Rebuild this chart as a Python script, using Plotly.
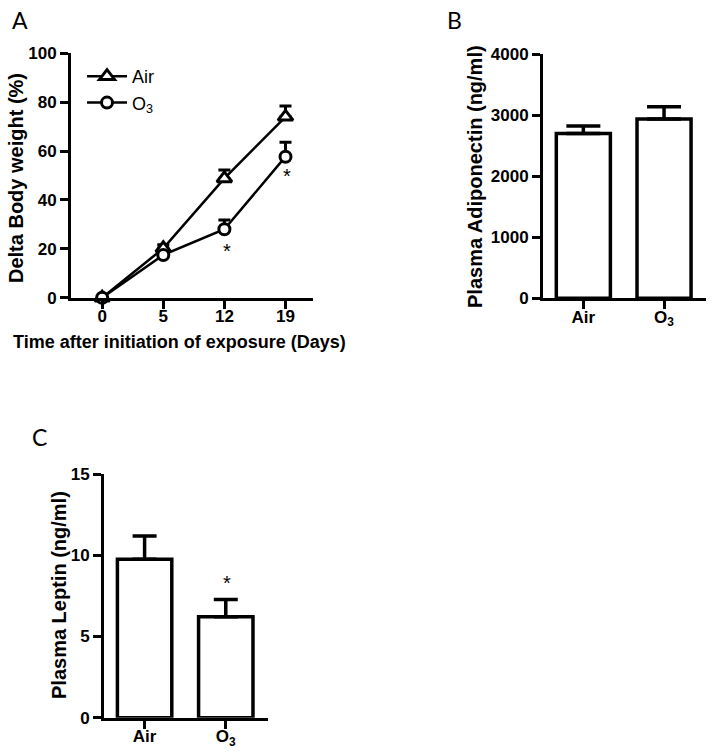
import plotly.graph_objects as go

W, H = 714, 755

# ---- Data ----
days = ["0", "5", "12", "19"]
air_weight = [0, 20.2, 48.8, 74.0]
air_weight_err = [0, 1.5, 3.5, 4.4]
o3_weight = [0, 17.5, 28.0, 57.7]
o3_weight_err = [0, 1.0, 3.8, 5.9]

groups = ["Air", "O<sub>3</sub>"]
adiponectin = [2700, 2935]
adiponectin_err = [120, 200]
leptin = [9.75, 6.22]
leptin_err = [1.43, 1.06]

BOLD = "Liberation Sans"
REG = "Liberation Sans"
LETTER = "Lato"

def px_x(p):
    return p / W

def px_y(p):
    return 1 - p / H

fig = go.Figure()

# Panel A lines
fig.add_trace(go.Scatter(
    x=days, y=air_weight, name="Air", mode="lines+markers",
    line=dict(color="black", width=2.5),
    marker=dict(symbol="triangle-up", size=13, color="white",
                line=dict(color="black", width=3)),
    error_y=dict(type="data", array=air_weight_err, arrayminus=[0]*4,
                 color="black", thickness=3, width=6),
    cliponaxis=False, xaxis="x", yaxis="y"))
fig.add_trace(go.Scatter(
    x=days, y=o3_weight, name="O<sub>3</sub>", mode="lines+markers",
    line=dict(color="black", width=2.5),
    marker=dict(symbol="circle", size=11, color="white",
                line=dict(color="black", width=3)),
    error_y=dict(type="data", array=o3_weight_err, arrayminus=[0]*4,
                 color="black", thickness=3, width=6),
    cliponaxis=False, xaxis="x", yaxis="y"))

# Panel B bars
fig.add_trace(go.Bar(
    x=groups, y=adiponectin, showlegend=False,
    marker=dict(color="white", line=dict(color="black", width=3.5)),
    error_y=dict(type="data", array=adiponectin_err, arrayminus=[0, 0],
                 color="black", thickness=3.5, width=17),
    width=0.67, xaxis="x2", yaxis="y2"))

# Panel C bars
fig.add_trace(go.Bar(
    x=groups, y=leptin, showlegend=False,
    marker=dict(color="white", line=dict(color="black", width=3.5)),
    error_y=dict(type="data", array=leptin_err, arrayminus=[0, 0],
                 color="black", thickness=3.5, width=12),
    width=0.67, xaxis="x3", yaxis="y3"))

axis_common = dict(showline=True, linecolor="black", linewidth=3,
                   ticks="outside", ticklen=8, tickwidth=3, tickcolor="black",
                   showgrid=False, zeroline=False, automargin=False,
                   tickfont=dict(family=BOLD, size=17, color="black", weight="bold"))
xaxis_extra = dict(ticklabelstandoff=-7)

fig.update_layout(
    template="none",
    width=W, height=H, margin=dict(l=0, r=0, t=0, b=0, pad=0, autoexpand=False),
    paper_bgcolor="white", plot_bgcolor="white",
    showlegend=True,
    legend=dict(x=px_x(82), y=px_y(58), xanchor="left", yanchor="top",
                font=dict(family=REG, size=18, color="black"),
                bgcolor="rgba(0,0,0,0)", tracegroupgap=0, itemwidth=40),
    xaxis=dict(domain=[px_x(71), px_x(313)], type="category",
               range=[-0.51, 3.45], anchor="y", **axis_common, **xaxis_extra),
    yaxis=dict(domain=[px_y(297.7), px_y(53.3)], range=[0, 100],
               tickvals=[0, 20, 40, 60, 80, 100], anchor="x", **axis_common),
    xaxis2=dict(domain=[px_x(543), px_x(706)], type="category",
                range=[-0.5, 1.52], anchor="y2", **axis_common, **xaxis_extra),
    yaxis2=dict(domain=[px_y(298.3), px_y(54)], range=[0, 4000],
                tickvals=[0, 1000, 2000, 3000, 4000], anchor="x2", **axis_common),
    xaxis3=dict(domain=[px_x(104), px_x(268)], type="category",
                range=[-0.5, 1.52], anchor="y3", **axis_common, **xaxis_extra),
    yaxis3=dict(domain=[px_y(717.7), px_y(474)], range=[0, 15],
                tickvals=[0, 5, 10, 15], anchor="x3", **axis_common),
)

ann = []
def label(text, x, y, size, family, bold=False, angle=0):
    ann.append(dict(text=text, x=px_x(x), y=px_y(y), xref="paper", yref="paper",
                    xanchor="center", yanchor="middle", showarrow=False,
                    textangle=angle,
                    font=dict(family=family, size=size, color="black",
                              weight="bold" if bold else "normal")))

label("A", 20, 20, 23, LETTER)
label("B", 455, 20, 23, LETTER)
label("C", 39, 437, 23, LETTER)
label("Delta Body weight (%)", 16, 178, 20, BOLD, True, -90)
label("Time after initiation of exposure (Days)", 179, 342, 18, BOLD, True)
label("Plasma Adiponectin (ng/ml)", 475, 177, 20, BOLD, True, -90)
label("Plasma Leptin (ng/ml)", 59, 595, 20, BOLD, True, -90)

# significance asterisks
for xr, yr, xv, yv in [("x", "y", 2.05, 19.2), ("x", "y", 3.02, 49.9), ("x3", "y3", 1.02, 8.27)]:
    ann.append(dict(text="*", x=xv, y=yv, xref=xr, yref=yr, showarrow=False,
                    xanchor="center", yanchor="middle",
                    font=dict(family=REG, size=20, color="black")))

fig.update_layout(annotations=ann)
fig.write_html("out.html", config={"displayModeBar": False},
               post_script="document.body.style.margin='0';document.body.style.overflow='hidden';")
